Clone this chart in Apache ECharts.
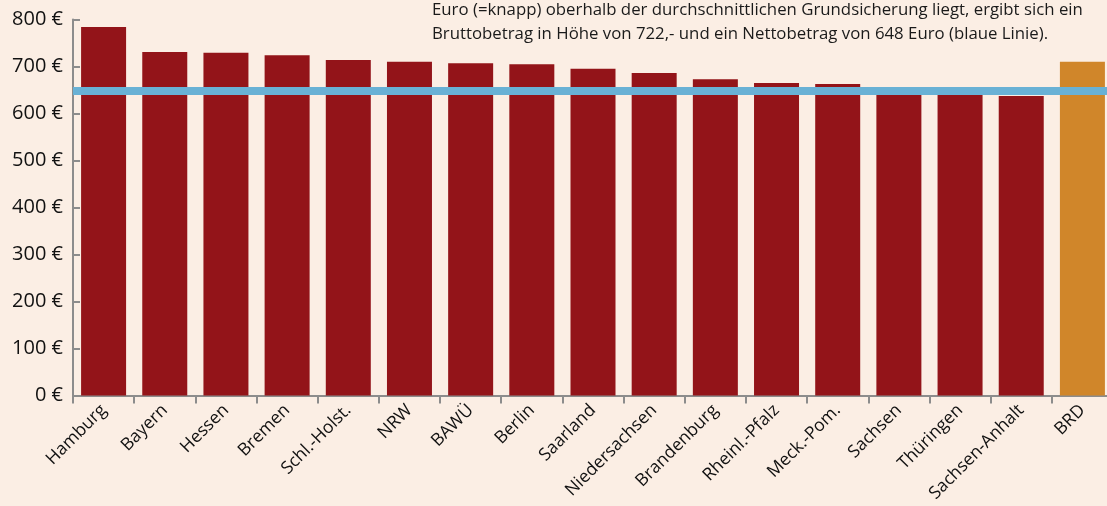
<!DOCTYPE html>
<html><head><meta charset="utf-8">
<script src="https://cdn.jsdelivr.net/npm/echarts@6/dist/echarts.min.js"></script>
<style>html,body{margin:0;padding:0;background:#fbeee4}#c{width:1107px;height:506px}</style>
</head><body><div id="c"></div>
<script>
const categories = ["Hamburg","Bayern","Hessen","Bremen","Schl.-Holst.","NRW","BAWÜ","Berlin","Saarland","Niedersachsen","Brandenburg","Rheinl.-Pfalz","Meck.-Pom.","Sachsen","Thüringen","Sachsen-Anhalt","BRD"];
const values = [784,731,729,724,714,710,707,705,695,686,673,665,663,652,648,637,710];
const netto = 648;
const yTicks = {min:0, max:800, interval:100, suffix:" €"};
const note = "Euro (=knapp) oberhalb der durchschnittlichen Grundsicherung liegt, ergibt sich ein\nBruttobetrag in Höhe von 722,- und ein Nettobetrag von 648 Euro (blaue Linie).";

const chart = echarts.init(document.getElementById('c'));
chart.setOption({
  backgroundColor:'#fbeee4',
  animation:false,
  grid:{left:73, top:19.5, height:376, width:1040, containLabel:false, outerBoundsMode:'none'},
  graphic:[{type:'text', left:432, top:-2, style:{text:note, font:'16.8px "Open Sans"', fill:'#1a1a1a', lineHeight:24}}],
  xAxis:{type:'category', data:categories,
    axisLine:{lineStyle:{color:'#8c8c8c', width:2}},
    axisTick:{show:true, length:8, lineStyle:{color:'#8c8c8c', width:2}},
    axisLabel:{rotate:45, interval:0, fontSize:17.5, color:'#111', fontFamily:'Open Sans', margin:12}},
  yAxis:{type:'value', min:yTicks.min, max:yTicks.max, interval:yTicks.interval,
    axisLine:{show:true, lineStyle:{color:'#8c8c8c', width:2}},
    axisTick:{show:true, inside:true, length:7, lineStyle:{color:'#8c8c8c', width:2}},
    splitLine:{show:false},
    axisLabel:{formatter:v=>v+yTicks.suffix, fontSize:20, color:'#111', fontFamily:'Open Sans', margin:10}},
  series:[{type:'bar', data:values.map((v,i)=>({value:v, itemStyle:{color: categories[i]==='BRD' ? '#d0862a' : '#931419'}})),
    barWidth:45,
    markLine:{silent:true, symbol:'none', label:{show:false},
      lineStyle:{color:'#69b1d5', width:8, type:'solid'},
      data:[{yAxis:netto}]}}]
});
</script></body></html>
